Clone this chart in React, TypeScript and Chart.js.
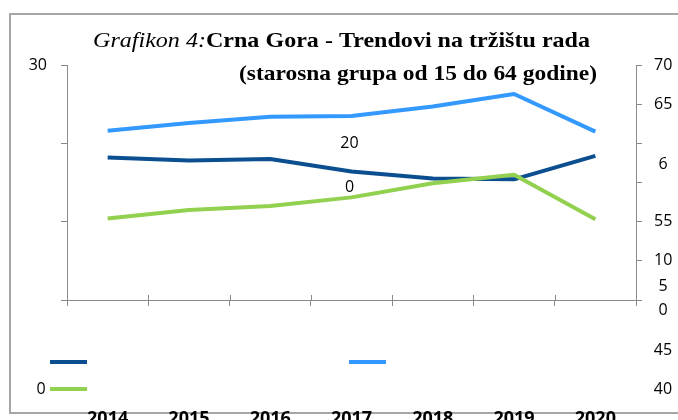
import React, { useEffect, useRef } from 'react';
import { Chart, registerables } from 'chart.js';

Chart.register(...registerables);

// ---- data ----
const years = ['2014', '2015', '2016', '2017', '2018', '2019', '2020'];
const unemploymentRate = [18.2, 17.8, 18.0, 16.4, 15.5, 15.4, 18.4]; // left axis
const activityRate = [61.6, 62.6, 63.4, 63.5, 64.7, 66.3, 61.5]; // right axis
const employmentRate = [50.4, 51.5, 52.0, 53.1, 54.9, 56.0, 50.3]; // right axis

const leftTickLabels: Record<string, string> = { '30': '30' };
const rightTickLabels: Record<string, string> = { '70': '70', '65': '65', '50': '55', '45': '10' };

// stray labels of the original (broken) rendering: [text, value]
const strayRight: [string, number][] = [['6', 57.3], ['5', 41.7], ['0', 38.7], ['45', 33.6], ['40', 28.6]];
const strayCenter: [string, number][] = [['20', 20], ['0', 14.4]];

const TITLE_1A = 'Grafikon 4:';
const TITLE_1B = 'Crna Gora - Trendovi na tržištu rada';
const TITLE_2 = '(starosna grupa od 15 do 64 godine)';

const COLORS = { dark: '#0b4f91', light: '#3399ff', green: '#92d050', axis: '#8a8a8a', frame: '#a6a6a6' };
const TICK_FONT = { family: '"Open Sans"', size: 16 };

const framePlugin = {
  id: 'frame',
  beforeDraw(chart: any) {
    const ctx = chart.ctx;
    ctx.save();
    ctx.fillStyle = '#fff';
    ctx.fillRect(0, 0, chart.width, chart.height);
    ctx.strokeStyle = COLORS.frame;
    ctx.lineWidth = 2;
    ctx.beginPath();
    ctx.moveTo(chart.width, 14);
    ctx.lineTo(10, 14);
    ctx.lineTo(10, 413);
    ctx.lineTo(chart.width, 413);
    ctx.stroke();
    ctx.restore();
  },
};

function stretchedText(ctx: any, parts: [string, string][], x: number, y: number, targetWidth: number) {
  let total = 0;
  const widths = parts.map(([font, t]) => {
    ctx.font = font;
    const w = ctx.measureText(t).width;
    total += w;
    return w;
  });
  const sx = targetWidth / total;
  ctx.save();
  ctx.translate(x, y);
  ctx.scale(sx, 1);
  let cx = 0;
  parts.forEach(([font, t], i) => {
    ctx.font = font;
    ctx.fillText(t, cx, 0);
    cx += widths[i];
  });
  ctx.restore();
}

const extrasPlugin = {
  id: 'extras',
  afterDraw(chart: any) {
    const ctx = chart.ctx;
    const { left, right, bottom } = chart.chartArea;
    const y = chart.scales.y;
    const y1 = chart.scales.y1;
    const x = chart.scales.x;
    ctx.save();
    // cross tick marks above the x axis
    ctx.strokeStyle = COLORS.axis;
    ctx.lineWidth = 1;
    const n = years.length;
    for (let i = 0; i <= n; i++) {
      const px = Math.round(left + (i * (right - left)) / n) + 0.5;
      ctx.beginPath();
      ctx.moveTo(px, bottom - 5);
      ctx.lineTo(px, bottom);
      ctx.stroke();
    }
    // title
    ctx.fillStyle = '#000';
    ctx.textBaseline = 'alphabetic';
    ctx.textAlign = 'left';
    stretchedText(ctx, [['italic 21px "Liberation Serif"', TITLE_1A], ['bold 21px "Liberation Serif"', TITLE_1B]], 93, 47, 497);
    stretchedText(ctx, [['bold 21px "Liberation Serif"', TITLE_2]], 239, 80, 358);
    // stray labels
    ctx.font = '16px "Open Sans"';
    ctx.textBaseline = 'middle';
    ctx.textAlign = 'center';
    strayRight.forEach(([t, v]) => ctx.fillText(t, 663, y1.getPixelForValue(v)));
    const cx = x.getPixelForValue(3) - 2;
    strayCenter.forEach(([t, v]) => ctx.fillText(t, cx, y.getPixelForValue(v)));
    ctx.fillText('0', 41, 389);
    // legend markers (no text)
    const ds = chart.data.datasets;
    const marks: [number, number, number][] = [
      [2, 50, 362],
      [1, 349, 362],
      [0, 50, 389],
    ];
    ctx.lineWidth = 4;
    marks.forEach(([i, mx, my]) => {
      ctx.strokeStyle = ds[i].borderColor;
      ctx.beginPath();
      ctx.moveTo(mx, my);
      ctx.lineTo(mx + 37, my);
      ctx.stroke();
    });
    ctx.restore();
  },
};

export default function App() {
  const ref = useRef<HTMLCanvasElement | null>(null);
  useEffect(() => {
    document.body.style.margin = '0';
    const chart = new Chart(ref.current as HTMLCanvasElement, {
      type: 'line',
      data: {
        labels: years,
        datasets: [
          { label: 'Stopa zaposlenosti', data: employmentRate, yAxisID: 'y1', borderColor: COLORS.green, backgroundColor: COLORS.green },
          { label: 'Stopa aktivnosti', data: activityRate, yAxisID: 'y1', borderColor: COLORS.light, backgroundColor: COLORS.light },
          { label: 'Stopa nezaposlenosti', data: unemploymentRate, yAxisID: 'y', borderColor: COLORS.dark, backgroundColor: COLORS.dark },
        ],
      },
      options: {
        animation: false,
        responsive: false,
        layout: { padding: { top: 65, left: 0, right: 0, bottom: 0 } },
        elements: {
          line: { borderWidth: 4, tension: 0, borderJoinStyle: 'round', borderCapStyle: 'butt' },
          point: { radius: 0, hoverRadius: 0 },
        },
        plugins: { legend: { display: false }, title: { display: false }, tooltip: { enabled: false } },
        scales: {
          x: {
            offset: true,
            grid: { offset: true, drawOnChartArea: false, tickLength: 6, color: COLORS.axis },
            border: { color: COLORS.axis },
            ticks: { padding: 102, color: '#000', font: { family: '"Open Sans"', size: 18, weight: 'bold' }, maxRotation: 0 },
            afterFit(s: any) {
              s.height = 120;
              s.paddingLeft = 0;
              s.paddingRight = 0;
            },
          },
          y: {
            position: 'left',
            min: 0,
            max: 30,
            grid: { drawOnChartArea: false, tickLength: 6, color: COLORS.axis },
            border: { color: COLORS.axis },
            ticks: { stepSize: 10, padding: 14, color: '#000', font: TICK_FONT, callback: (v: any) => leftTickLabels[String(v)] ?? '' },
            afterFit(s: any) { s.width = 67; },
          },
          y1: {
            position: 'right',
            min: 40,
            max: 70,
            grid: { drawOnChartArea: false, tickLength: 6, color: COLORS.axis },
            border: { color: COLORS.axis },
            ticks: { stepSize: 5, padding: 12, color: '#000', font: TICK_FONT, callback: (v: any) => rightTickLabels[String(v)] ?? '' },
            afterFit(s: any) { s.width = 42; },
          },
        },
      } as any,
      plugins: [framePlugin, extrasPlugin],
    });
    return () => chart.destroy();
  }, []);
  return <canvas ref={ref} width={678} height={420} style={{ display: 'block' }} />;
}
